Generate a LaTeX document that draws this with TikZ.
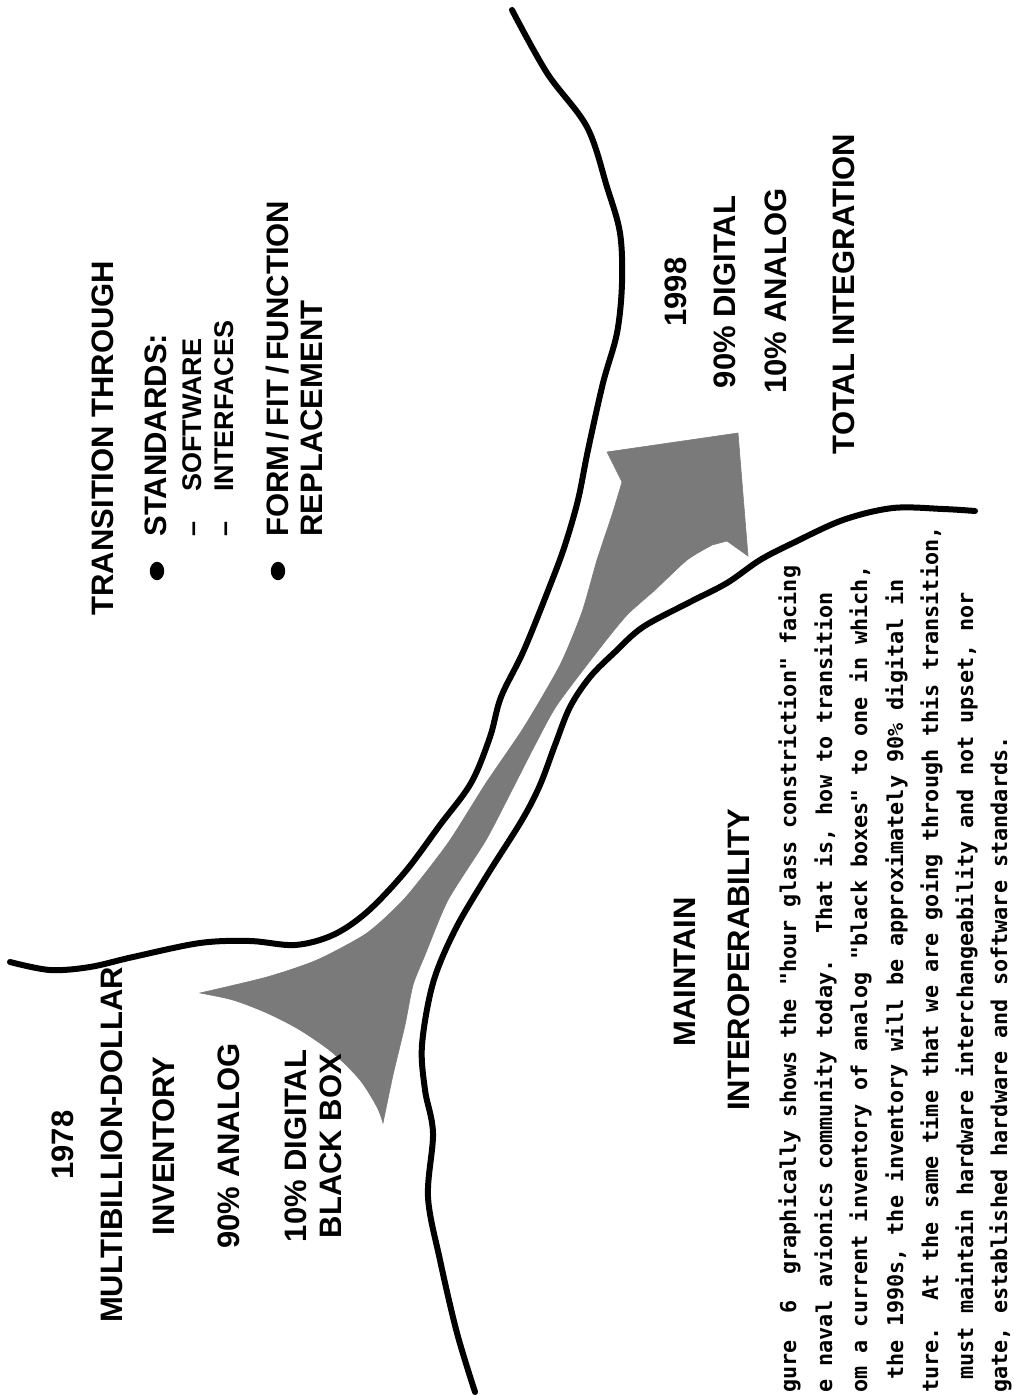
\documentclass[tikz,border=0pt]{standalone}
\usepackage{fontspec}
\setmainfont{Liberation Sans}
\newfontfamily\memofont{DejaVu Sans Mono}
\begin{document}
\begin{tikzpicture}[x=0.5pt, y=-0.5pt,
  boundary/.style={line width=3pt, line cap=round, line join=round},
  flow/.style={fill=black!52, draw=black!52, line width=0.3pt},
  caption/.style={rotate=90, inner sep=0pt, anchor=base,
    font=\bfseries\fontsize{15.5}{18}\selectfont},
  subcaption/.style={caption, font=\bfseries\fontsize{13.5}{15}\selectfont},
  memo/.style={rotate=90, inner sep=0pt, anchor=base west,
    font=\memofont\bfseries\fontsize{10.9}{12}\selectfont\frenchspacing}]

\useasboundingbox (0,0) rectangle (1013,1395);
\clip (0,0) rectangle (1013,1395);

% upper boundary of the constriction
\draw[boundary] plot[smooth, tension=0.55] coordinates {
  (10,962) (50,970) (90,967) (133,957) (200,943) (250,941) (295,945)
  (333,935) (367,912) (405,872) (440,825) (471,783) (490,737) (501,697)
  (524,650) (551,583) (565,545) (578,500) (588,450) (603,383) (617,333)
  (622,283) (620,233) (607,187) (587,127) (547,73) (512,10)};

% lower boundary of the constriction
\draw[boundary] plot[smooth, tension=0.55] coordinates {
  (975,511) (943,509) (893,508) (843,520) (793,543) (760,560) (727,583)
  (690,602) (643,627) (615,652) (590,677) (570,707) (555,745) (540,785)
  (522,820) (486,877) (455,930) (433,983) (422,1045) (425,1090)
  (433,1133) (428,1197) (440,1260) (457,1333) (475,1392)};

% the transition arrow
\path[flow] plot[smooth, tension=0.4] coordinates {
  (200,993) (267,977) (317,960) (367,933) (405,898) (448,843) (486,783)
  (524,727) (560,665) (582,612) (597,560) (612,515) (622,482)}
  -- (607,452) -- (738,433) -- (748,556) -- (727,541) --
  plot[smooth, tension=0.4] coordinates {
  (712,545) (687,560) (655,590) (627,615) (600,648) (557,705) (535,745)
  (512,790) (486,840) (448,900) (425,955) (413,985) (405,1025)
  (393,1075) (383,1123)}
  -- plot[smooth, tension=0.5] coordinates {
  (383,1123) (377,1107) (360,1080) (333,1053) (300,1030) (267,1013)
  (233,1000) (200,993)} -- cycle;

% 1978 inventory
\node[caption] (year78) at (73,1145) {1978};
\node[caption] (multi) at (122,1145) {MULTIBILLION-DOLLAR};
\node[caption] (inv) at (174,1146) {INVENTORY};
\node[caption] (ana90) at (239,1146) {90\% ANALOG};
\node[caption] (dig10) at (306,1146) {10\% DIGITAL};
\node[caption] (bbox) at (341,1146) {BLACK BOX};

% transition list
\node[caption] (trans) at (113,438) {TRANSITION THROUGH};
\fill (157,571) ellipse [x radius=3.6pt, y radius=4.6pt];
\node[caption, anchor=base west] (std) at (166,537) {STANDARDS:};
\node[subcaption, anchor=base west] (soft) at (201,537) {--\hspace{15pt}SOFTWARE};
\node[subcaption, anchor=base west] (intf) at (233,537) {--\hspace{15pt}INTERFACES};
\fill (278,571) ellipse [x radius=3.6pt, y radius=4.6pt];
\node[caption, anchor=base west] (fff) at (288,537) {FORM\,/\,FIT\,/\,FUNCTION};
\node[caption, anchor=base west] (repl) at (322,537) {REPLACEMENT};

% 1998 inventory
\node[caption] (year98) at (686,292) {1998};
\node[caption] (dig90) at (735,292) {90\% DIGITAL};
\node[caption] (ana10) at (786,291) {10\% ANALOG};
\node[caption] (total) at (854,294) {TOTAL INTEGRATION};

% interoperability
\node[caption] (maint) at (695,972) {MAINTAIN};
\node[caption] (interop) at (749,960) {INTEROPERABILITY};

% caption text
\node[memo] (m1) at (796,1393) {gure\ \ 6\ \ graphically shows the "hour glass constriction" facing};
\node[memo] (m2) at (832,1393) {e naval avionics community today.\ \ That is, how to transition};
\node[memo] (m3) at (867,1393) {om a current inventory of analog "black boxes" to one in which,};
\node[memo] (m4) at (903,1393) {\ the 1990s, the inventory will be approximately 90\% digital in};
\node[memo] (m5) at (938,1393) {ture.\ \ At the same time that we are going through this transition,};
\node[memo] (m6) at (973,1393) {\ must maintain hardware interchangeability and not upset, nor};
\node[memo] (m7) at (1007,1393) {gate, established hardware and software standards.};
\end{tikzpicture}
\end{document}
